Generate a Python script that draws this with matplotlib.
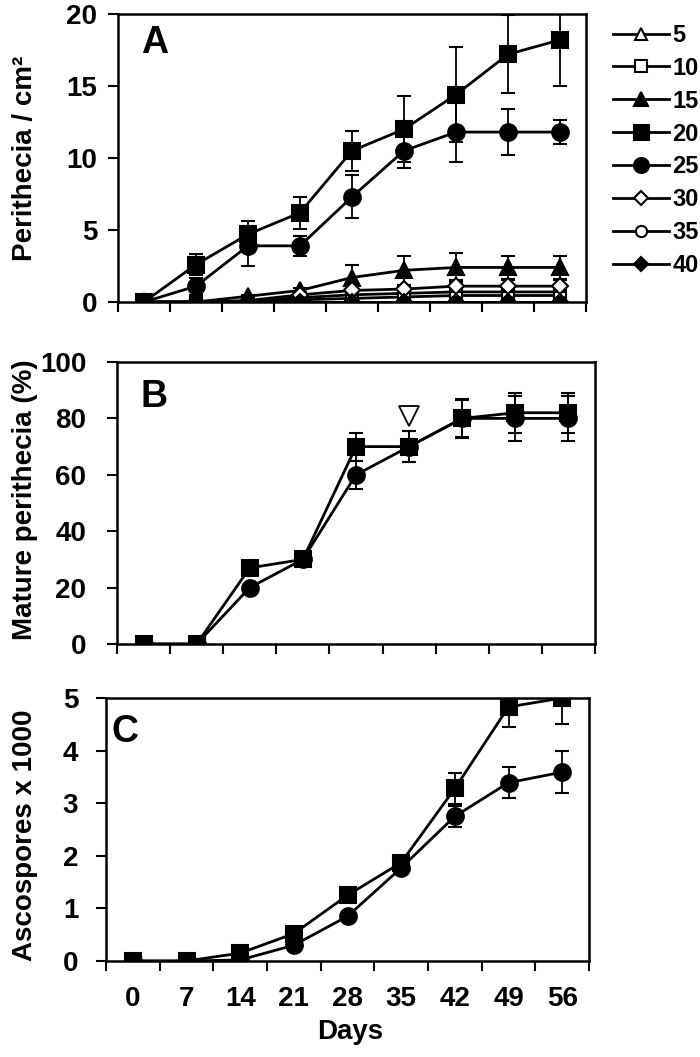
import matplotlib
matplotlib.use("Agg")

import matplotlib.pyplot as plt
from matplotlib.lines import Line2D
import numpy as np

plt.rcParams["font.family"] = ["Liberation Sans", "DejaVu Sans"]
plt.rcParams["font.weight"] = "bold"

# ── Data ──────────────────────────────────────────────────────────────────────

days = [0, 7, 14, 21, 28, 35, 42, 49, 56]

# Panel A: perithecia / cm2 by temperature
temps = ["5", "10", "15", "20", "25", "30", "35", "40"]
peri_5 = [0, 0, 0, 0.15, 0.25, 0.35, 0.45, 0.45, 0.45]
peri_10 = [0, 0, 0.05, 0.3, 0.5, 0.6, 0.7, 0.7, 0.7]
peri_15 = [0, 0, 0.4, 0.8, 1.7, 2.2, 2.4, 2.4, 2.4]
peri_20 = [0, 2.6, 4.7, 6.2, 10.5, 12.0, 14.4, 17.2, 18.2]
peri_25 = [0, 1.1, 3.9, 3.9, 7.3, 10.5, 11.8, 11.8, 11.8]
peri_30 = [0, 0, 0.1, 0.5, 0.8, 0.9, 1.1, 1.1, 1.1]
peri_35 = [0, 0, 0, 0, 0, 0, 0, 0, 0]
peri_40 = [0, 0, 0, 0, 0, 0, 0, 0, 0]

err_5 = [0, 0, 0, 0.1, 0.1, 0.15, 0.2, 0.2, 0.2]
err_10 = [0, 0, 0, 0.1, 0.2, 0.25, 0.3, 0.3, 0.3]
err_15 = [0, 0, 0.1, 0.2, 0.9, 1.0, 1.0, 0.8, 0.8]
err_20 = [0, 0.7, 0.9, 1.1, 1.4, 2.3, 3.3, 2.7, 3.2]
err_25 = [0, 0.6, 1.4, 0.7, 1.5, 1.2, 2.1, 1.6, 0.85]
err_30 = [0, 0, 0.1, 0.2, 0.3, 0.3, 0.4, 0.4, 0.4]
err_35 = [0, 0, 0, 0, 0, 0, 0, 0, 0]
err_40 = [0, 0, 0, 0, 0, 0, 0, 0, 0]

# Panel B: mature perithecia (%)
mature_20 = [0, 0, 27, 30, 70, 70, 80, 82, 82]
mature_25 = [0, 0, 20, 30, 60, 70, 80, 80, 80]
mature_err_20 = [0, 0, 0, 0, 5, 5.5, 7, 7, 7]
mature_err_25 = [0, 0, 0, 0, 5, 5.5, 6.5, 8, 8]
marker_day = 35
marker_val = 81

# Panel C: ascospores x 1000
asco_20 = [0, 0, 0.15, 0.52, 1.25, 1.87, 3.28, 4.83, 5.0]
asco_25 = [0, 0, 0.02, 0.3, 0.85, 1.77, 2.75, 3.39, 3.59]
asco_err_20 = [0, 0, 0, 0, 0, 0.08, 0.3, 0.38, 0.5]
asco_err_25 = [0, 0, 0, 0, 0, 0.1, 0.2, 0.3, 0.4]

# ── Styling ───────────────────────────────────────────────────────────────────

styles = {
    "5":  dict(marker="^", mfc="white", ms=9),
    "10": dict(marker="s", mfc="white", ms=9),
    "15": dict(marker="^", mfc="black", ms=11),
    "20": dict(marker="s", mfc="black", ms=12),
    "25": dict(marker="o", mfc="black", ms=12),
    "30": dict(marker="D", mfc="white", ms=8),
    "35": dict(marker="o", mfc="white", ms=9),
    "40": dict(marker="D", mfc="black", ms=8),
}

TICK_FS = 20
LABEL_FS = 20
LETTER_FS = 27

W, H = 700, 1057
fig = plt.figure(figsize=(W / 100, H / 100), dpi=100)


def px_axes(left, top, right, bottom):
    return fig.add_axes([left / W, 1 - bottom / H, (right - left) / W, (bottom - top) / H])


axA = px_axes(118, 14, 586, 302)
axB = px_axes(117, 362, 595, 644)
axC = px_axes(106, 698, 589, 961)

x = np.arange(len(days))


def draw(ax, vals, errs, key, z=3):
    st = styles[key]
    ax.errorbar(x, vals, yerr=errs, color="black", lw=2.0, marker=st["marker"],
                ms=st["ms"], mfc=st["mfc"], mec="black", mew=1.5,
                elinewidth=1.3, capsize=5, capthick=1.3, zorder=z, clip_on=True)


def style_axis(ax, ymax, ystep, ypad, show_xlabels=False):
    ax.set_xlim(-0.5, len(days) - 0.5)
    ax.set_ylim(0, ymax)
    ax.set_yticks(np.arange(0, ymax + ystep / 2, ystep))
    ax.set_xticks(np.arange(-0.5, len(days), 1.0))
    ax.set_xticklabels([])
    ax.set_xticks(x, minor=True)
    if show_xlabels:
        ax.set_xticklabels([str(d) for d in days], minor=True)
    else:
        ax.set_xticklabels([], minor=True)
    ax.tick_params(axis="x", which="major", direction="out", length=7, width=1.5)
    ax.tick_params(axis="x", which="minor", length=0, pad=18, labelsize=TICK_FS)
    ax.tick_params(axis="y", direction="out", length=7, width=1.5, pad=ypad,
                   labelsize=TICK_FS)
    for sp in ax.spines.values():
        sp.set_linewidth(1.8)
    for lab in ax.get_yticklabels() + ax.get_xticklabels(minor=True):
        lab.set_fontweight("bold")


# ── Panel A ───────────────────────────────────────────────────────────────────

series_A = [
    ("5", peri_5, err_5), ("10", peri_10, err_10), ("15", peri_15, err_15),
    ("20", peri_20, err_20), ("25", peri_25, err_25), ("30", peri_30, err_30),
    ("35", peri_35, err_35), ("40", peri_40, err_40),
]
for i, (key, vals, errs) in enumerate(series_A):
    z = 5 if key in ("20", "25") else 3 + i * 0.1
    draw(axA, vals, errs, key, z=z)
style_axis(axA, 20, 5, 8)
axA.text(0.05, 0.9, "A", transform=axA.transAxes, fontsize=LETTER_FS,
         fontweight="bold", va="center", ha="left")

handles = []
for key in temps:
    st = styles[key]
    handles.append(Line2D([], [], color="black", lw=2.0, marker=st["marker"],
                          ms=st["ms"] * 0.9, mfc=st["mfc"], mec="black", mew=1.5))
fig.legend(handles, temps, loc="upper left", bbox_to_anchor=(601 / W, 1 - 12 / H),
           frameon=False, handlelength=2.4, handletextpad=0.12,
           labelspacing=0.42, borderpad=0, prop={"weight": "bold", "size": 17})

# ── Panel B ───────────────────────────────────────────────────────────────────

draw(axB, mature_25, mature_err_25, "25")
draw(axB, mature_20, mature_err_20, "20")
axB.plot([x[days.index(marker_day)]], [marker_val], marker="v", ms=15, mfc="white",
         mec="black", mew=1.3, ls="none", zorder=6)
style_axis(axB, 100, 20, 15)
axB.text(0.05, 0.876, "B", transform=axB.transAxes, fontsize=LETTER_FS,
         fontweight="bold", va="center", ha="left")

# ── Panel C ───────────────────────────────────────────────────────────────────

draw(axC, asco_25, asco_err_25, "25")
draw(axC, asco_20, asco_err_20, "20")
style_axis(axC, 5, 1, 13, show_xlabels=True)
axC.text(0.012, 0.87, "C", transform=axC.transAxes, fontsize=LETTER_FS,
         fontweight="bold", va="center", ha="left")

# ── Labels ────────────────────────────────────────────────────────────────────

fig.text(25 / W, 1 - 158 / H, "Perithecia / cm²", rotation=90, ha="center",
         va="center", fontsize=LABEL_FS, fontweight="bold")
fig.text(25 / W, 1 - 500 / H, "Mature perithecia (%)", rotation=90, ha="center",
         va="center", fontsize=LABEL_FS, fontweight="bold")
fig.text(25 / W, 1 - 835 / H, "Ascospores x 1000", rotation=90, ha="center",
         va="center", fontsize=LABEL_FS, fontweight="bold")
fig.text(350 / W, 1 - 1032 / H, "Days", ha="center", va="center", fontsize=LABEL_FS,
         fontweight="bold")

fig.savefig("out.png", dpi=100)
plt.close(fig)
